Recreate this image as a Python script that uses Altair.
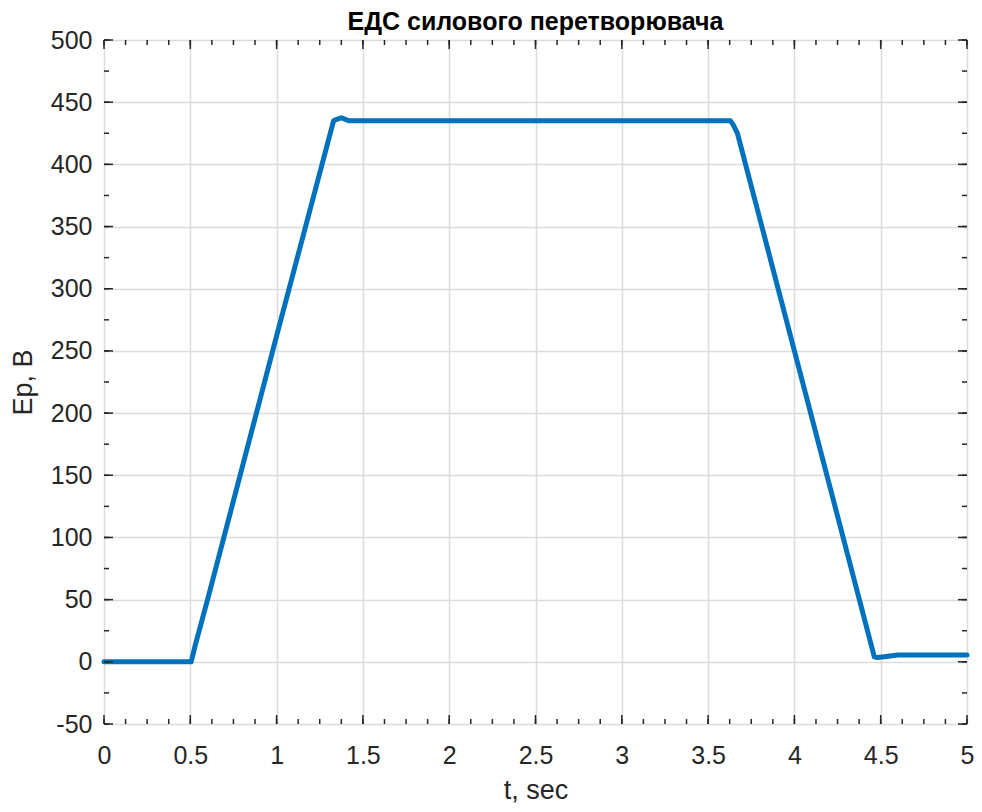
import altair as alt
import pandas as pd

# Series
t_vals = [0.0, 0.505, 0.53, 0.60, 1.00, 1.33, 1.345, 1.375, 1.42, 1.50, 2.5, 3.63, 3.645, 3.67, 4.00, 4.463, 4.48, 4.52, 4.60, 5.0]
e_vals = [0.0, 0.0, 14.0, 50.0, 262.0, 435.0, 436.0, 437.5, 435.0, 435.0, 435.0, 435.0, 432.0, 425.0, 250.0, 4.0, 3.5, 4.0, 5.5, 5.5]

x_major = [0, 0.5, 1, 1.5, 2, 2.5, 3, 3.5, 4, 4.5, 5]
x_minor = [i * 0.125 for i in range(41)]
y_major = [-50, 0, 50, 100, 150, 200, 250, 300, 350, 400, 450, 500]
y_minor = [-50 + i * 25 for i in range(23)]

W, H = 863, 684
FONT = "Liberation Sans"
AX = "#262626"

df = pd.DataFrame({"t": t_vals, "E": e_vals})
xs = alt.Scale(domain=[0, 5], nice=False, zero=False)
ys = alt.Scale(domain=[-50, 500], nice=False, zero=False)

common = dict(grid=True, ticks=False, tickSize=0, domain=False,
              labelFontSize=25, titleFontSize=27,
              labelColor=AX, titleColor=AX, labelFont=FONT, titleFont=FONT,
              titleFontWeight="normal", gridColor="#dcdcdc", gridWidth=1.5,
              labelFlush=False, labelOverlap=False, labelExpr="'' + datum.value")
x_axis = alt.Axis(values=x_major, labelPadding=19, titlePadding=9, **common)
y_axis = alt.Axis(values=y_major, labelPadding=12, titlePadding=13, **common)

main = alt.Chart(df).mark_line(color="#0072BD", strokeWidth=5, strokeJoin="round", strokeCap="round").encode(
    x=alt.X("t:Q", scale=xs, title="t, sec", axis=x_axis),
    y=alt.Y("E:Q", scale=ys, title="Ep, B", axis=y_axis),
)

def xticks(vals, length):
    d = pd.DataFrame({"t": vals})
    enc_x = alt.X("t:Q", scale=xs, title="t, sec", axis=x_axis)
    bottom = alt.Chart(d).mark_rule(color=AX, strokeWidth=1.5).encode(
        x=enc_x, y=alt.value(H), y2=alt.value(H - length))
    top = alt.Chart(d).mark_rule(color=AX, strokeWidth=1.5).encode(
        x=enc_x, y=alt.value(0), y2=alt.value(length))
    return [bottom, top]

def yticks(vals, length):
    d = pd.DataFrame({"E": vals})
    enc_y = alt.Y("E:Q", scale=ys, title="Ep, B", axis=y_axis)
    left = alt.Chart(d).mark_rule(color=AX, strokeWidth=1.5).encode(
        y=enc_y, x=alt.value(0), x2=alt.value(length))
    right = alt.Chart(d).mark_rule(color=AX, strokeWidth=1.5).encode(
        y=enc_y, x=alt.value(W), x2=alt.value(W - length))
    return [left, right]

layers = [main] + xticks(x_minor, 5) + xticks(x_major, 9) + yticks(y_minor, 5) + yticks(y_major, 9)

chart = alt.layer(*layers).properties(
    width=W, height=H,
    title=alt.TitleParams("ЕДС силового перетворювача", font=FONT, fontSize=25,
                          fontWeight="bold", color="#000000", anchor="middle", offset=-7),
    autosize=alt.AutoSizeParams(type="none"),
    padding={"left": 96, "top": 32, "right": 7, "bottom": 80},
).configure_view(stroke=AX, strokeWidth=2).configure(background="white")

chart.save("out.html", embed_options={"renderer": "svg", "actions": False})
